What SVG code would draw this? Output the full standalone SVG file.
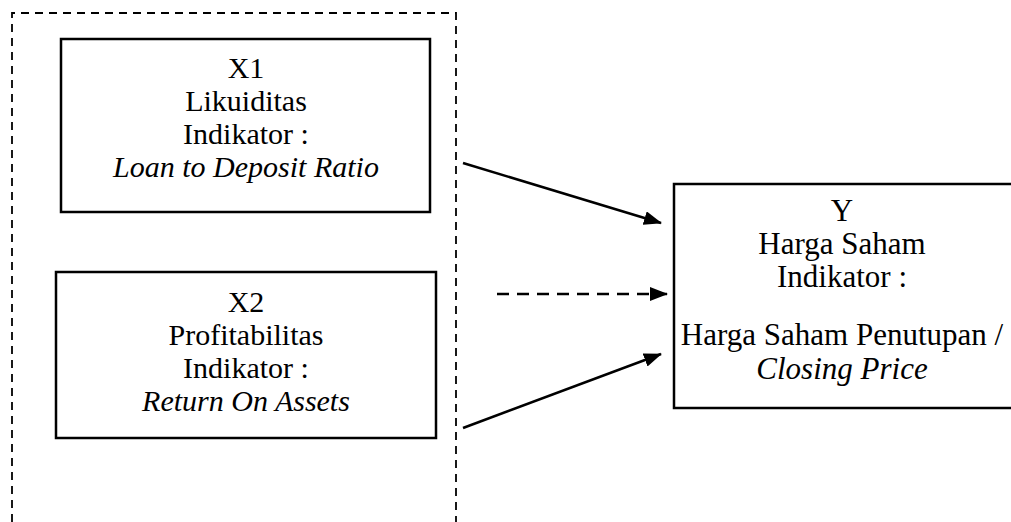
<svg xmlns="http://www.w3.org/2000/svg" width="1011" height="522" viewBox="0 0 1011 522">
<style>
.box{fill:#fff;stroke:#000;stroke-width:2.5}
.t{font-family:"Liberation Serif","Times New Roman",serif;font-size:30px;fill:#000;text-anchor:middle}
.ty{font-size:31px}
.i{font-style:italic}
.c{stroke:#000;stroke-width:2.5;fill:none}
.d{stroke-dasharray:12 8}
</style>
<defs>
<marker id="ah" viewBox="0 0 18 14" refX="17" refY="7" markerWidth="18" markerHeight="14" markerUnits="userSpaceOnUse" orient="auto">
<path d="M0,0 L18,7 L0,14 Z" fill="#000"/>
</marker>
</defs>
<rect width="1011" height="522" fill="#fff"/>
<g id="frame">
<path d="M12,522 L12,13 L456,13 L456,522" fill="none" stroke="#000" stroke-width="1.8" stroke-dasharray="8 6"/>
</g>
<g id="x1">
<rect class="box" x="61" y="39" width="369" height="173"/>
<text class="t" x="246" y="78">X1</text>
<text class="t" x="246" y="111">Likuiditas</text>
<text class="t" x="246" y="144">Indikator :</text>
<text class="t i" x="246" y="177">Loan to Deposit Ratio</text>
</g>
<g id="x2">
<rect class="box" x="56" y="272" width="380" height="166"/>
<text class="t" x="246" y="312">X2</text>
<text class="t" x="246" y="345">Profitabilitas</text>
<text class="t" x="246" y="378">Indikator :</text>
<text class="t i" x="246" y="411">Return On Assets</text>
</g>
<g id="y">
<rect class="box" x="674" y="184" width="360" height="224"/>
<text class="t ty" x="842" y="221">Y</text>
<text class="t ty" x="842" y="254">Harga Saham</text>
<text class="t ty" x="842" y="287">Indikator :</text>
<text class="t ty" x="842" y="345">Harga Saham Penutupan /</text>
<text class="t ty i" x="842" y="379">Closing Price</text>
</g>
<g id="connectors">
<line class="c" x1="463" y1="163" x2="661" y2="223" marker-end="url(#ah)"/>
<line class="c d" x1="497" y1="294" x2="667" y2="294" marker-end="url(#ah)"/>
<line class="c" x1="463" y1="428" x2="661" y2="354" marker-end="url(#ah)"/>
</g>
</svg>
